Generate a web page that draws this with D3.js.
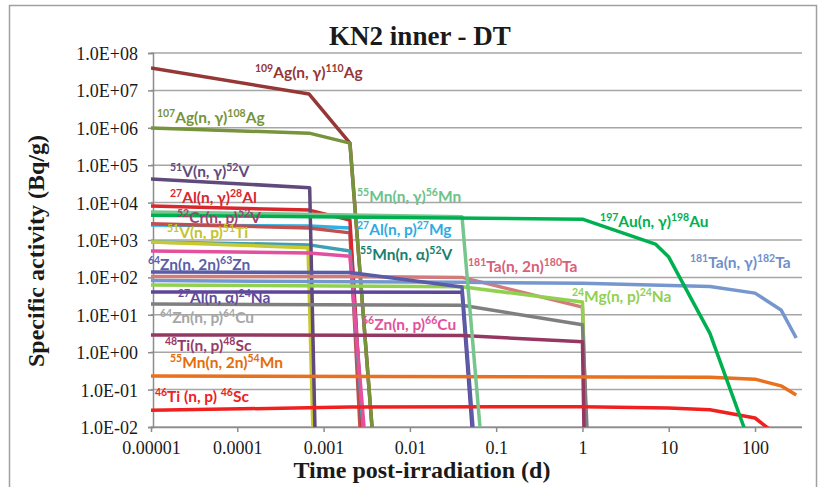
<!DOCTYPE html>
<html>
<head>
<meta charset="utf-8">
<script src="https://cdn.jsdelivr.net/npm/d3@7/dist/d3.min.js"></script>
<style>
  body { margin: 0; background: #fff; }
  .axis-title { font-family: "Liberation Serif", "Times New Roman", serif; font-weight: bold; fill: #1a1a1a; }
  .tick-label { font-family: "Liberation Serif", "Times New Roman", serif; font-size: 18px; fill: #1a1a1a; }
  .reaction { font-family: Lato, "Open Sans", sans-serif; font-weight: bold; font-size: 15.5px; }
</style>
</head>
<body>
<div id="chart"></div>
<script>
// time after irradiation (d) ticks and activity decades
const dayTicks = [1e-5, 1e-4, 1e-3, 1e-2, 1e-1, 1, 10, 100];
const dayTickLabels = ["0.00001", "0.0001", "0.001", "0.01", "0.1", "1", "10", "100"];
const activityTicks = [1e-2, 1e-1, 1e0, 1e1, 1e2, 1e3, 1e4, 1e5, 1e6, 1e7, 1e8];

// [time (d), specific activity (Bq/g)]
const ag110 = [[1e-5, 4.0e7], [6.8e-4, 8.0e6], [2.02e-3, 3.9e5], [3.64e-3, 1e-2]];
const ag108 = [[1e-5, 9.9e5], [6.8e-4, 7.2e5], [2.02e-3, 3.9e5], [3.64e-3, 1e-2]];
const mg27 = [[1e-5, 2.5e3], [6.8e-4, 2.37e3], [2.02e-3, 2.1e3], [2.8e-3, 1e-2]];
const v52cr = [[1e-5, 2.7e3], [6.8e-4, 2.1e3], [2.02e-3, 1.55e3], [2.64e-3, 1e-2]];
const al28 = [[1e-5, 8.1e3], [6.8e-4, 6.3e3], [2.02e-3, 3.4e3], [2.8e-3, 1e-2]];
const v52mn = [[1e-5, 8.9e2], [6.8e-4, 7.4e2], [2.02e-3, 5.1e2], [2.86e-3, 1e-2]];
const ti51 = [[1e-5, 8.9e2], [6.6e-4, 6.2e2], [7.5e-4, 1e-2]];
const v52 = [[1e-5, 4.3e4], [6.9e-4, 2.5e4], [7.94e-4, 1e-2]];
const cu66 = [[1e-5, 5.1e2], [6.8e-4, 4.5e2], [2.02e-3, 3.7e2], [2.94e-3, 1e-2]];
const ta180 = [[1e-5, 105], [2.02e-3, 105], [0.0402, 100], [1, 16], [1.1, 1e-2]];
const ta182 = [[1e-5, 82], [0.0402, 74], [1, 70], [30, 57], [100, 38], [200, 13.5], [300, 2.4]];
const na24mg = [[1e-5, 63], [0.0402, 56], [1, 22], [1.1, 1e-2]];
const na24al = [[1e-5, 41], [0.0402, 40], [0.0525, 1e-2]];
const cu64 = [[1e-5, 19.5], [0.0402, 18], [1, 5.4], [1.127, 1e-2]];
const zn63 = [[1e-5, 140], [2.02e-3, 135], [0.0402, 55], [0.0538, 1e-2]];
const sc48 = [[1e-5, 2.9], [0.0402, 2.8], [1, 1.9], [1.04, 1e-2]];
const mn54 = [[1e-5, 0.23], [30, 0.215], [100, 0.19], [200, 0.126], [300, 0.072]];
const sc46 = [[1e-5, 0.028], [2.02e-3, 0.034], [1, 0.035], [10, 0.032], [30, 0.029], [100, 0.0174], [200, 0.005]];
const mn56 = [[1e-5, 5.6e3], [0.0402, 4.2e3], [0.0649, 1e-2]];
const au198 = [[1e-5, 4.6e3], [1, 3.6e3], [7, 7.8e2], [10, 3.5e2], [30, 3.2], [100, 1.5e-3]];

// drawing order, bottom to top
const seriesData = [ag110, ag108, mg27, v52cr, al28, v52mn, ti51, v52, cu66, ta180,
  ta182, na24mg, na24al, cu64, zn63, sc48, mn54, sc46, mn56, au198];
const lineColors = ["#953735", "#77933C", "#2EB2E6", "#C0504D", "#D8282E", "#3FA0B4", "#C8C830", "#604A7B", "#E2509E", "#D27B7B",
  "#7597CE", "#92D050", "#5F4699", "#7F7F7F", "#5A5CA8", "#943763", "#E8701E", "#F02020", "#76C68E", "#00B050"];

// reaction labels, same order as seriesData; ^n marks a mass number
const reactions = ["^109Ag(n, γ)^110Ag", "^107Ag(n, γ)^108Ag", "^27Al(n, p)^27Mg", "^52Cr(n, p)^52V", "^27Al(n, γ)^28Al",
  "^55Mn(n, α)^52V", "^51V(n, p)^51Ti", "^51V(n, γ)^52V", "^66Zn(n, p)^66Cu", "^181Ta(n, 2n)^180Ta",
  "^181Ta(n, γ)^182Ta", "^24Mg(n, p)^24Na", "^27Al(n, α)^24Na", "^64Zn(n, p)^64Cu", "^64Zn(n, 2n)^63Zn",
  "^48Ti(n, p)^48Sc", "^55Mn(n, 2n)^54Mn", "^46Ti (n, p) ^46Sc", "^55Mn(n, γ)^56Mn", "^197Au(n, γ)^198Au"];
// label anchor (left, baseline) in data units
const labelAt = [[1.6e-4, 2.15e7], [1.17e-5, 1.34e6], [2.44e-3, 1.36e3], [2.0e-5, 2.85e3], [1.66e-5, 9.75e3],
  [2.64e-3, 292], [1.53e-5, 1.13e3], [1.66e-5, 4.83e4], [2.79e-3, 3.93], [0.0471, 139],
  [17.6, 178], [0.755, 22], [2.05e-5, 20.7], [1.27e-5, 6.04], [9.2e-6, 158],
  [1.45e-5, 1.08], [1.66e-5, 0.378], [1.11e-5, 0.0466], [2.44e-3, 1.04e4], [1.6, 2.23e3]];
const labelColors = ["#953735", "#77933C", "#2EACE2", "#A0436F", "#D8282E", "#17806F", "#C4C42A", "#604A7B", "#E2509E", "#D9607A",
  "#6F8FCB", "#92D050", "#5F4B9B", "#A6A6A6", "#5A5EA8", "#953A68", "#E46C0A", "#EE2222", "#6CC28A", "#00B050"];

const width = 820, height = 487;
const plot = { left: 151, right: 802, top: 53, bottom: 427 };

const svg = d3.select("#chart").append("svg")
  .attr("width", width).attr("height", height);

svg.append("rect")
  .attr("x", 9.5).attr("y", 5.5).attr("width", 807).attr("height", 500)
  .attr("fill", "#fff").attr("stroke", "#a0a0a0").attr("stroke-width", 1.5);

const x = d3.scaleLog().domain([1e-5, 350]).range([plot.left, plot.right]);
const y = d3.scaleLog().domain([1e-2, 1e8]).range([plot.bottom, plot.top]);

// horizontal gridlines
svg.append("g").selectAll("line").data(activityTicks).join("line")
  .attr("x1", plot.left).attr("x2", plot.right)
  .attr("y1", d => y(d)).attr("y2", d => y(d))
  .attr("stroke", "#a6a6a6").attr("stroke-width", 1.5);

const fmtE = d => {
  const e = Math.round(Math.log10(d));
  return "1.0E" + (e < 0 ? "-" : "+") + String(Math.abs(e)).padStart(2, "0");
};

const yAxis = svg.append("g")
  .attr("transform", `translate(${plot.left + 2},0)`)
  .call(d3.axisLeft(y).tickValues(activityTicks).tickFormat(fmtE).tickSize(5).tickPadding(10));
const xAxis = svg.append("g")
  .attr("transform", `translate(0,${plot.bottom})`)
  .call(d3.axisBottom(x).tickValues(dayTicks).tickFormat((d, i) => dayTickLabels[i]).tickSize(5).tickPadding(9));
xAxis.select(".domain").attr("d", `M${plot.left},0.5H${plot.right}`);
[xAxis, yAxis].forEach(a => {
  a.select(".domain").attr("stroke", "#8c8c8c").attr("stroke-width", 1.5);
  a.selectAll(".tick line").attr("stroke", "#8c8c8c").attr("stroke-width", 1.5);
  a.selectAll("text").attr("class", "tick-label").attr("font-family", null).attr("font-size", null).attr("fill", null);
});
yAxis.selectAll("text").attr("dy", "0.36em");
xAxis.selectAll("text").attr("dy", "0.72em");

svg.append("clipPath").attr("id", "plot-clip").append("rect")
  .attr("x", plot.left).attr("y", plot.top - 5)
  .attr("width", plot.right - plot.left + 5).attr("height", plot.bottom - plot.top + 5);

const line = d3.line().x(d => x(d[0])).y(d => y(d[1]));

svg.append("g").attr("clip-path", "url(#plot-clip)")
  .selectAll("path").data(seriesData).join("path")
  .attr("d", line)
  .attr("fill", "none")
  .attr("stroke", (d, i) => lineColors[i])
  .attr("stroke-width", 3.5)
  .attr("stroke-linejoin", "round");

// reaction labels with superscript mass numbers
const labels = svg.append("g").selectAll("text").data(reactions).join("text")
  .attr("class", "reaction")
  .attr("x", (d, i) => x(labelAt[i][0]))
  .attr("y", (d, i) => y(labelAt[i][1]))
  .attr("fill", (d, i) => labelColors[i]);

labels.each(function (d) {
  const t = d3.select(this);
  let raised = false;
  d.split(/(\^\d+)/).filter(s => s.length).forEach(part => {
    if (part.startsWith("^")) {
      t.append("tspan").attr("font-size", "10.5px").attr("dy", raised ? 0 : -6).text(part.slice(1));
      raised = true;
    } else {
      t.append("tspan").attr("dy", raised ? 6 : 0).text(part);
      raised = false;
    }
  });
});

svg.append("text").attr("class", "axis-title")
  .attr("x", 420).attr("y", 45).attr("text-anchor", "middle")
  .attr("font-size", 27).text("KN2 inner - DT");

svg.append("text").attr("class", "axis-title")
  .attr("x", 422).attr("y", 478).attr("text-anchor", "middle")
  .attr("font-size", 24).text("Time post-irradiation (d)");

svg.append("text").attr("class", "axis-title")
  .attr("transform", "translate(44,251) rotate(-90)").attr("text-anchor", "middle")
  .attr("font-size", 24).text("Specific activity (Bq/g)");
</script>
</body>
</html>
